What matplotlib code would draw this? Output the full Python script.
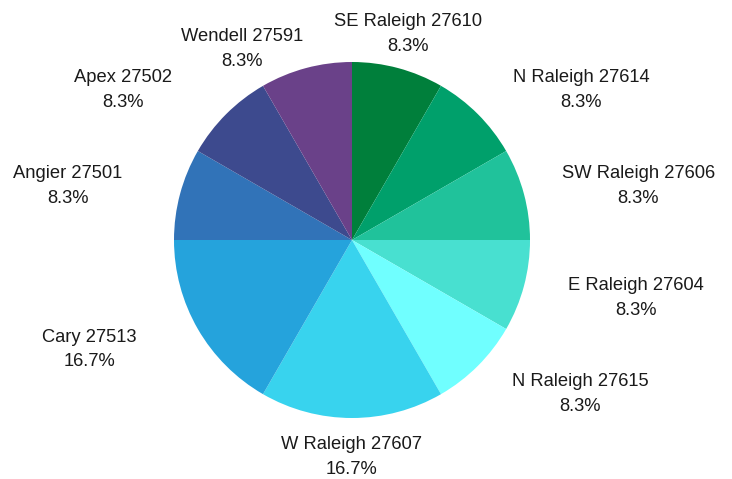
import matplotlib
matplotlib.use("Agg")
import matplotlib.pyplot as plt
import numpy as np

# ---- data ----
labels = ["SE Raleigh 27610", "N Raleigh 27614", "SW Raleigh 27606", "E Raleigh 27604",
          "N Raleigh 27615", "W Raleigh 27607", "Cary 27513", "Angier 27501",
          "Apex 27502", "Wendell 27591"]
values = [1, 1, 1, 1, 1, 2, 2, 1, 1, 1]
colors = ["#007f3b", "#00a06b", "#20c29b", "#48e0d0", "#70ffff",
          "#38d3ee", "#25a3dc", "#3173b8", "#3d4a8e", "#6a4189"]

# ---- layout (pixels) ----
W, H = 732, 479
cx, cy_pix, R = 352, 240, 178
label_r = 215
label_ha = ["center", "left", "left", "left", "left", "center", "right", "right", "right", "right"]
label_nudge = [(0, -2), (9, -2), (2, -2), (8, -2), (8, -2), (0, -2), (-29, -2), (-22, -2), (-28, -2), (7, -17)]

fig = plt.figure(figsize=(W / 100, H / 100), dpi=100)
ax = fig.add_axes([0, 0, 1, 1])
cy = H - cy_pix

wedges, _ = ax.pie(values, colors=colors, startangle=90, counterclock=False,
                   center=(cx, cy), radius=R, frame=True,
                   wedgeprops=dict(linewidth=0))
ax.set_xlim(0, W)
ax.set_ylim(0, H)
ax.set_aspect("equal")
ax.axis("off")

total = sum(values)
for w, lab, v, ha, (dx, dy) in zip(wedges, labels, values, label_ha, label_nudge):
    th = np.deg2rad((w.theta1 + w.theta2) / 2)
    x = cx + label_r * np.cos(th) + dx
    y = cy + label_r * np.sin(th) + dy
    ax.text(x, y, f"{lab}\n{v / total * 100:.1f}%", ha=ha, va="center",
            multialignment="center", fontsize=13.2, family="Liberation Sans",
            color="#1a1a1a", linespacing=1.6)

fig.savefig("out.png", dpi=100)
